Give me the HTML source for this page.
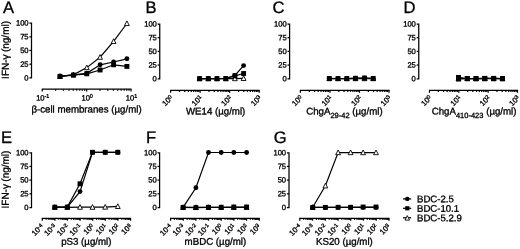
<!DOCTYPE html>
<html lang="en">
<head>
<meta charset="utf-8">
<title>Figure</title>
<style>
html,body{margin:0;padding:0;background:#fff;}
body{width:520px;height:249px;overflow:hidden;}
svg{display:block;}
.t{font-family:"Liberation Sans", Arial, sans-serif;fill:#000;stroke:#000;stroke-width:0.33;text-rendering:geometricPrecision;}
.ax{fill:none;stroke:#000;stroke-width:1.25;}
</style>
</head>
<body>
<svg width="520" height="249" viewBox="0 0 520 249">
<defs><filter id="soft" x="0" y="0" width="520" height="249" filterUnits="userSpaceOnUse"><feGaussianBlur stdDeviation="0.4"/></filter></defs>
<rect width="520" height="249" fill="#fff"/>
<g filter="url(#soft)">
<text transform="translate(3.0,13.1) rotate(0.03)" font-size="16.6" class="t">A</text>
<path d="M29.40,23.10H31.50V77.90H29.40" class="ax"/>
<path d="M29.40,64.20H31.50" class="ax"/>
<path d="M29.40,50.50H31.50" class="ax"/>
<path d="M29.40,36.80H31.50" class="ax"/>
<text transform="translate(28.60,80.40) rotate(0.03)" font-size="7.6" text-anchor="end" class="t">0</text>
<text transform="translate(28.60,66.70) rotate(0.03)" font-size="7.6" text-anchor="end" class="t">25</text>
<text transform="translate(28.60,53.00) rotate(0.03)" font-size="7.6" text-anchor="end" class="t">50</text>
<text transform="translate(28.60,39.30) rotate(0.03)" font-size="7.6" text-anchor="end" class="t">75</text>
<text transform="translate(28.60,25.60) rotate(0.03)" font-size="7.6" text-anchor="end" class="t">100</text>
<text transform="translate(8.7,78.90) rotate(-89.97)" font-size="10" class="t">IFN-γ</text>
<text transform="translate(8.7,52.10) rotate(-89.97)" font-size="10" class="t">(ng/ml)</text>
<path d="M41.75,89.20H131.55" class="ax"/>
<path d="M42.25,89.20v2.4" class="ax"/>
<path d="M55.62,89.20v1.55" class="ax"/>
<path d="M63.43,89.20v1.55" class="ax"/>
<path d="M68.98,89.20v1.55" class="ax"/>
<path d="M73.28,89.20v1.55" class="ax"/>
<path d="M76.80,89.20v1.55" class="ax"/>
<path d="M79.77,89.20v1.55" class="ax"/>
<path d="M82.35,89.20v1.55" class="ax"/>
<path d="M84.62,89.20v1.55" class="ax"/>
<text transform="translate(42.75,100.40) rotate(0.03)" font-size="7.6" text-anchor="middle" class="t">10<tspan dy="-2.6" font-size="5.4">-1</tspan></text>
<path d="M86.65,89.20v2.4" class="ax"/>
<path d="M100.02,89.20v1.55" class="ax"/>
<path d="M107.83,89.20v1.55" class="ax"/>
<path d="M113.38,89.20v1.55" class="ax"/>
<path d="M117.68,89.20v1.55" class="ax"/>
<path d="M121.20,89.20v1.55" class="ax"/>
<path d="M124.17,89.20v1.55" class="ax"/>
<path d="M126.75,89.20v1.55" class="ax"/>
<path d="M129.02,89.20v1.55" class="ax"/>
<text transform="translate(87.15,100.40) rotate(0.03)" font-size="7.6" text-anchor="middle" class="t">10<tspan dy="-2.6" font-size="5.4">0</tspan></text>
<path d="M131.05,89.20v2.4" class="ax"/>
<text transform="translate(131.55,100.40) rotate(0.03)" font-size="7.6" text-anchor="middle" class="t">10<tspan dy="-2.6" font-size="5.4">1</tspan></text>
<text transform="translate(86.50,112.45) rotate(0.03)" font-size="9.7" text-anchor="middle" class="t">β-cell membranes (µg/ml)</text>
<polyline fill="none" stroke="#000" stroke-width="1.2" points="60.00,76.40 73.40,74.80 86.80,67.60 100.10,57.20 113.60,41.40 126.90,23.50"/><polygon points="60.00,73.80 57.60,78.50 62.40,78.50" fill="#fff" stroke="#000" stroke-width="0.9"/><polygon points="73.40,72.20 71.00,76.90 75.80,76.90" fill="#fff" stroke="#000" stroke-width="0.9"/><polygon points="86.80,65.00 84.40,69.70 89.20,69.70" fill="#fff" stroke="#000" stroke-width="0.9"/><polygon points="100.10,54.60 97.70,59.30 102.50,59.30" fill="#fff" stroke="#000" stroke-width="0.9"/><polygon points="113.60,38.80 111.20,43.50 116.00,43.50" fill="#fff" stroke="#000" stroke-width="0.9"/><polygon points="126.90,20.90 124.50,25.60 129.30,25.60" fill="#fff" stroke="#000" stroke-width="0.9"/>
<polyline fill="none" stroke="#000" stroke-width="1.2" points="60.00,76.30 73.40,75.10 86.80,73.80 100.10,70.00 113.60,64.80 126.90,66.40"/><rect x="57.55" y="73.85" width="4.90" height="4.90" fill="#000"/><rect x="70.95" y="72.65" width="4.90" height="4.90" fill="#000"/><rect x="84.35" y="71.35" width="4.90" height="4.90" fill="#000"/><rect x="97.65" y="67.55" width="4.90" height="4.90" fill="#000"/><rect x="111.15" y="62.35" width="4.90" height="4.90" fill="#000"/><rect x="124.45" y="63.95" width="4.90" height="4.90" fill="#000"/>
<polyline fill="none" stroke="#000" stroke-width="1.2" points="60.00,76.10 73.40,74.90 86.80,73.30 100.10,64.80 113.60,62.00 126.90,58.80"/><circle cx="60.00" cy="76.10" r="2.45" fill="#000"/><circle cx="73.40" cy="74.90" r="2.45" fill="#000"/><circle cx="86.80" cy="73.30" r="2.45" fill="#000"/><circle cx="100.10" cy="64.80" r="2.45" fill="#000"/><circle cx="113.60" cy="62.00" r="2.45" fill="#000"/><circle cx="126.90" cy="58.80" r="2.45" fill="#000"/>
<text transform="translate(145.4,13.1) rotate(0.03)" font-size="16.6" class="t">B</text>
<path d="M157.65,24.00H159.75V78.75H157.65" class="ax"/>
<path d="M157.65,65.06H159.75" class="ax"/>
<path d="M157.65,51.38H159.75" class="ax"/>
<path d="M157.65,37.69H159.75" class="ax"/>
<text transform="translate(156.85,81.25) rotate(0.03)" font-size="7.6" text-anchor="end" class="t">0</text>
<text transform="translate(156.85,67.56) rotate(0.03)" font-size="7.6" text-anchor="end" class="t">25</text>
<text transform="translate(156.85,53.88) rotate(0.03)" font-size="7.6" text-anchor="end" class="t">50</text>
<text transform="translate(156.85,40.19) rotate(0.03)" font-size="7.6" text-anchor="end" class="t">75</text>
<text transform="translate(156.85,26.50) rotate(0.03)" font-size="7.6" text-anchor="end" class="t">100</text>
<path d="M170.10,90.35H259.69" class="ax"/>
<path d="M170.60,90.35v2.4" class="ax"/>
<path d="M179.49,90.35v1.55" class="ax"/>
<path d="M184.69,90.35v1.55" class="ax"/>
<path d="M188.38,90.35v1.55" class="ax"/>
<path d="M191.24,90.35v1.55" class="ax"/>
<path d="M193.58,90.35v1.55" class="ax"/>
<path d="M195.56,90.35v1.55" class="ax"/>
<path d="M197.27,90.35v1.55" class="ax"/>
<path d="M198.78,90.35v1.55" class="ax"/>
<text transform="translate(173.40,98.45) rotate(-45)" font-size="7.6" text-anchor="end" class="t">10<tspan dy="-1.9" font-size="5.4">0</tspan></text>
<path d="M200.13,90.35v2.4" class="ax"/>
<path d="M209.02,90.35v1.55" class="ax"/>
<path d="M214.22,90.35v1.55" class="ax"/>
<path d="M217.91,90.35v1.55" class="ax"/>
<path d="M220.77,90.35v1.55" class="ax"/>
<path d="M223.11,90.35v1.55" class="ax"/>
<path d="M225.09,90.35v1.55" class="ax"/>
<path d="M226.80,90.35v1.55" class="ax"/>
<path d="M228.31,90.35v1.55" class="ax"/>
<text transform="translate(202.93,98.45) rotate(-45)" font-size="7.6" text-anchor="end" class="t">10<tspan dy="-1.9" font-size="5.4">1</tspan></text>
<path d="M229.66,90.35v2.4" class="ax"/>
<path d="M238.55,90.35v1.55" class="ax"/>
<path d="M243.75,90.35v1.55" class="ax"/>
<path d="M247.44,90.35v1.55" class="ax"/>
<path d="M250.30,90.35v1.55" class="ax"/>
<path d="M252.64,90.35v1.55" class="ax"/>
<path d="M254.62,90.35v1.55" class="ax"/>
<path d="M256.33,90.35v1.55" class="ax"/>
<path d="M257.84,90.35v1.55" class="ax"/>
<text transform="translate(232.46,98.45) rotate(-45)" font-size="7.6" text-anchor="end" class="t">10<tspan dy="-1.9" font-size="5.4">2</tspan></text>
<path d="M259.19,90.35v2.4" class="ax"/>
<text transform="translate(261.99,98.45) rotate(-45)" font-size="7.6" text-anchor="end" class="t">10<tspan dy="-1.9" font-size="5.4">3</tspan></text>
<text transform="translate(215.60,114.50) rotate(0.03)" font-size="9.7" text-anchor="middle" class="t">WE14 (µg/ml)</text>
<polyline fill="none" stroke="#000" stroke-width="1.2" points="199.60,78.70 208.30,78.70 217.00,78.70 225.80,78.70 234.90,78.60 243.60,78.40"/><polygon points="199.60,76.10 197.20,80.80 202.00,80.80" fill="#fff" stroke="#000" stroke-width="0.9"/><polygon points="208.30,76.10 205.90,80.80 210.70,80.80" fill="#fff" stroke="#000" stroke-width="0.9"/><polygon points="217.00,76.10 214.60,80.80 219.40,80.80" fill="#fff" stroke="#000" stroke-width="0.9"/><polygon points="225.80,76.10 223.40,80.80 228.20,80.80" fill="#fff" stroke="#000" stroke-width="0.9"/><polygon points="234.90,76.00 232.50,80.70 237.30,80.70" fill="#fff" stroke="#000" stroke-width="0.9"/><polygon points="243.60,75.80 241.20,80.50 246.00,80.50" fill="#fff" stroke="#000" stroke-width="0.9"/>
<polyline fill="none" stroke="#000" stroke-width="1.2" points="199.60,78.60 208.30,78.60 217.00,78.60 225.80,78.50 234.90,75.80 243.60,73.50"/><rect x="197.15" y="76.15" width="4.90" height="4.90" fill="#000"/><rect x="205.85" y="76.15" width="4.90" height="4.90" fill="#000"/><rect x="214.55" y="76.15" width="4.90" height="4.90" fill="#000"/><rect x="223.35" y="76.05" width="4.90" height="4.90" fill="#000"/><rect x="232.45" y="73.35" width="4.90" height="4.90" fill="#000"/><rect x="241.15" y="71.05" width="4.90" height="4.90" fill="#000"/>
<polyline fill="none" stroke="#000" stroke-width="1.2" points="199.60,78.60 208.30,78.60 217.00,78.60 225.80,78.50 234.90,75.40 243.60,65.60"/><circle cx="199.60" cy="78.60" r="2.45" fill="#000"/><circle cx="208.30" cy="78.60" r="2.45" fill="#000"/><circle cx="217.00" cy="78.60" r="2.45" fill="#000"/><circle cx="225.80" cy="78.50" r="2.45" fill="#000"/><circle cx="234.90" cy="75.40" r="2.45" fill="#000"/><circle cx="243.60" cy="65.60" r="2.45" fill="#000"/>
<text transform="translate(272.5,13.1) rotate(0.03)" font-size="16.6" class="t">C</text>
<path d="M287.50,24.00H289.60V78.75H287.50" class="ax"/>
<path d="M287.50,65.06H289.60" class="ax"/>
<path d="M287.50,51.38H289.60" class="ax"/>
<path d="M287.50,37.69H289.60" class="ax"/>
<text transform="translate(286.70,81.25) rotate(0.03)" font-size="7.6" text-anchor="end" class="t">0</text>
<text transform="translate(286.70,67.56) rotate(0.03)" font-size="7.6" text-anchor="end" class="t">25</text>
<text transform="translate(286.70,53.88) rotate(0.03)" font-size="7.6" text-anchor="end" class="t">50</text>
<text transform="translate(286.70,40.19) rotate(0.03)" font-size="7.6" text-anchor="end" class="t">75</text>
<text transform="translate(286.70,26.50) rotate(0.03)" font-size="7.6" text-anchor="end" class="t">100</text>
<path d="M299.90,90.35H389.49" class="ax"/>
<path d="M300.40,90.35v2.4" class="ax"/>
<path d="M309.29,90.35v1.55" class="ax"/>
<path d="M314.49,90.35v1.55" class="ax"/>
<path d="M318.18,90.35v1.55" class="ax"/>
<path d="M321.04,90.35v1.55" class="ax"/>
<path d="M323.38,90.35v1.55" class="ax"/>
<path d="M325.36,90.35v1.55" class="ax"/>
<path d="M327.07,90.35v1.55" class="ax"/>
<path d="M328.58,90.35v1.55" class="ax"/>
<text transform="translate(303.20,98.45) rotate(-45)" font-size="7.6" text-anchor="end" class="t">10<tspan dy="-1.9" font-size="5.4">0</tspan></text>
<path d="M329.93,90.35v2.4" class="ax"/>
<path d="M338.82,90.35v1.55" class="ax"/>
<path d="M344.02,90.35v1.55" class="ax"/>
<path d="M347.71,90.35v1.55" class="ax"/>
<path d="M350.57,90.35v1.55" class="ax"/>
<path d="M352.91,90.35v1.55" class="ax"/>
<path d="M354.89,90.35v1.55" class="ax"/>
<path d="M356.60,90.35v1.55" class="ax"/>
<path d="M358.11,90.35v1.55" class="ax"/>
<text transform="translate(332.73,98.45) rotate(-45)" font-size="7.6" text-anchor="end" class="t">10<tspan dy="-1.9" font-size="5.4">1</tspan></text>
<path d="M359.46,90.35v2.4" class="ax"/>
<path d="M368.35,90.35v1.55" class="ax"/>
<path d="M373.55,90.35v1.55" class="ax"/>
<path d="M377.24,90.35v1.55" class="ax"/>
<path d="M380.10,90.35v1.55" class="ax"/>
<path d="M382.44,90.35v1.55" class="ax"/>
<path d="M384.42,90.35v1.55" class="ax"/>
<path d="M386.13,90.35v1.55" class="ax"/>
<path d="M387.64,90.35v1.55" class="ax"/>
<text transform="translate(362.26,98.45) rotate(-45)" font-size="7.6" text-anchor="end" class="t">10<tspan dy="-1.9" font-size="5.4">2</tspan></text>
<path d="M388.99,90.35v2.4" class="ax"/>
<text transform="translate(391.79,98.45) rotate(-45)" font-size="7.6" text-anchor="end" class="t">10<tspan dy="-1.9" font-size="5.4">3</tspan></text>
<text transform="translate(344.40,114.50) rotate(0.03)" font-size="9.7" text-anchor="middle" class="t">ChgA<tspan dy="3.4" font-size="7.5">29-42</tspan><tspan dy="-3.4"> (µg/ml)</tspan></text>
<polyline fill="none" stroke="#000" stroke-width="1.2" points="329.30,78.60 338.00,78.60 346.80,78.60 355.50,78.60 364.50,78.60 373.20,78.60"/><polygon points="329.30,76.00 326.90,80.70 331.70,80.70" fill="#fff" stroke="#000" stroke-width="0.9"/><polygon points="338.00,76.00 335.60,80.70 340.40,80.70" fill="#fff" stroke="#000" stroke-width="0.9"/><polygon points="346.80,76.00 344.40,80.70 349.20,80.70" fill="#fff" stroke="#000" stroke-width="0.9"/><polygon points="355.50,76.00 353.10,80.70 357.90,80.70" fill="#fff" stroke="#000" stroke-width="0.9"/><polygon points="364.50,76.00 362.10,80.70 366.90,80.70" fill="#fff" stroke="#000" stroke-width="0.9"/><polygon points="373.20,76.00 370.80,80.70 375.60,80.70" fill="#fff" stroke="#000" stroke-width="0.9"/>
<polyline fill="none" stroke="#000" stroke-width="1.2" points="329.30,78.40 338.00,78.50 346.80,78.50 355.50,78.20 364.50,78.00 373.20,78.40"/><circle cx="329.30" cy="78.40" r="2.45" fill="#000"/><circle cx="338.00" cy="78.50" r="2.45" fill="#000"/><circle cx="346.80" cy="78.50" r="2.45" fill="#000"/><circle cx="355.50" cy="78.20" r="2.45" fill="#000"/><circle cx="364.50" cy="78.00" r="2.45" fill="#000"/><circle cx="373.20" cy="78.40" r="2.45" fill="#000"/>
<polyline fill="none" stroke="#000" stroke-width="1.2" points="329.30,78.50 338.00,78.60 346.80,78.60 355.50,78.30 364.50,78.10 373.20,78.50"/><rect x="326.85" y="76.05" width="4.90" height="4.90" fill="#000"/><rect x="335.55" y="76.15" width="4.90" height="4.90" fill="#000"/><rect x="344.35" y="76.15" width="4.90" height="4.90" fill="#000"/><rect x="353.05" y="75.85" width="4.90" height="4.90" fill="#000"/><rect x="362.05" y="75.65" width="4.90" height="4.90" fill="#000"/><rect x="370.75" y="76.05" width="4.90" height="4.90" fill="#000"/>
<text transform="translate(403.5,13.1) rotate(0.03)" font-size="16.6" class="t">D</text>
<path d="M416.65,24.00H418.75V78.75H416.65" class="ax"/>
<path d="M416.65,65.06H418.75" class="ax"/>
<path d="M416.65,51.38H418.75" class="ax"/>
<path d="M416.65,37.69H418.75" class="ax"/>
<text transform="translate(415.85,81.25) rotate(0.03)" font-size="7.6" text-anchor="end" class="t">0</text>
<text transform="translate(415.85,67.56) rotate(0.03)" font-size="7.6" text-anchor="end" class="t">25</text>
<text transform="translate(415.85,53.88) rotate(0.03)" font-size="7.6" text-anchor="end" class="t">50</text>
<text transform="translate(415.85,40.19) rotate(0.03)" font-size="7.6" text-anchor="end" class="t">75</text>
<text transform="translate(415.85,26.50) rotate(0.03)" font-size="7.6" text-anchor="end" class="t">100</text>
<path d="M429.00,90.35H517.99" class="ax"/>
<path d="M429.50,90.35v2.4" class="ax"/>
<path d="M438.33,90.35v1.55" class="ax"/>
<path d="M443.49,90.35v1.55" class="ax"/>
<path d="M447.16,90.35v1.55" class="ax"/>
<path d="M450.00,90.35v1.55" class="ax"/>
<path d="M452.32,90.35v1.55" class="ax"/>
<path d="M454.29,90.35v1.55" class="ax"/>
<path d="M455.99,90.35v1.55" class="ax"/>
<path d="M457.49,90.35v1.55" class="ax"/>
<text transform="translate(432.30,98.45) rotate(-45)" font-size="7.6" text-anchor="end" class="t">10<tspan dy="-1.9" font-size="5.4">0</tspan></text>
<path d="M458.83,90.35v2.4" class="ax"/>
<path d="M467.66,90.35v1.55" class="ax"/>
<path d="M472.82,90.35v1.55" class="ax"/>
<path d="M476.49,90.35v1.55" class="ax"/>
<path d="M479.33,90.35v1.55" class="ax"/>
<path d="M481.65,90.35v1.55" class="ax"/>
<path d="M483.62,90.35v1.55" class="ax"/>
<path d="M485.32,90.35v1.55" class="ax"/>
<path d="M486.82,90.35v1.55" class="ax"/>
<text transform="translate(461.63,98.45) rotate(-45)" font-size="7.6" text-anchor="end" class="t">10<tspan dy="-1.9" font-size="5.4">1</tspan></text>
<path d="M488.16,90.35v2.4" class="ax"/>
<path d="M496.99,90.35v1.55" class="ax"/>
<path d="M502.15,90.35v1.55" class="ax"/>
<path d="M505.82,90.35v1.55" class="ax"/>
<path d="M508.66,90.35v1.55" class="ax"/>
<path d="M510.98,90.35v1.55" class="ax"/>
<path d="M512.95,90.35v1.55" class="ax"/>
<path d="M514.65,90.35v1.55" class="ax"/>
<path d="M516.15,90.35v1.55" class="ax"/>
<text transform="translate(490.96,98.45) rotate(-45)" font-size="7.6" text-anchor="end" class="t">10<tspan dy="-1.9" font-size="5.4">2</tspan></text>
<path d="M517.49,90.35v2.4" class="ax"/>
<text transform="translate(520.29,98.45) rotate(-45)" font-size="7.6" text-anchor="end" class="t">10<tspan dy="-1.9" font-size="5.4">3</tspan></text>
<text transform="translate(474.10,114.50) rotate(0.03)" font-size="9.7" text-anchor="middle" class="t">ChgA<tspan dy="3.4" font-size="7.5">410-423</tspan><tspan dy="-3.4"> (µg/ml)</tspan></text>
<polyline fill="none" stroke="#000" stroke-width="1.2" points="458.50,78.70 467.30,78.70 476.00,78.70 484.80,78.70 493.70,78.70 502.50,78.70"/><polygon points="458.50,76.10 456.10,80.80 460.90,80.80" fill="#fff" stroke="#000" stroke-width="0.9"/><polygon points="467.30,76.10 464.90,80.80 469.70,80.80" fill="#fff" stroke="#000" stroke-width="0.9"/><polygon points="476.00,76.10 473.60,80.80 478.40,80.80" fill="#fff" stroke="#000" stroke-width="0.9"/><polygon points="484.80,76.10 482.40,80.80 487.20,80.80" fill="#fff" stroke="#000" stroke-width="0.9"/><polygon points="493.70,76.10 491.30,80.80 496.10,80.80" fill="#fff" stroke="#000" stroke-width="0.9"/><polygon points="502.50,76.10 500.10,80.80 504.90,80.80" fill="#fff" stroke="#000" stroke-width="0.9"/>
<polyline fill="none" stroke="#000" stroke-width="1.2" points="458.50,78.90 467.30,78.50 476.00,78.60 484.80,78.40 493.70,78.40 502.50,78.60"/><rect x="456.05" y="76.45" width="4.90" height="4.90" fill="#000"/><rect x="464.85" y="76.05" width="4.90" height="4.90" fill="#000"/><rect x="473.55" y="76.15" width="4.90" height="4.90" fill="#000"/><rect x="482.35" y="75.95" width="4.90" height="4.90" fill="#000"/><rect x="491.25" y="75.95" width="4.90" height="4.90" fill="#000"/><rect x="500.05" y="76.15" width="4.90" height="4.90" fill="#000"/>
<polyline fill="none" stroke="#000" stroke-width="1.2" points="458.50,77.40 467.30,78.50 476.00,78.60 484.80,78.40 493.70,78.40 502.50,78.60"/><rect x="456.05" y="74.95" width="4.90" height="4.90" fill="#000"/><rect x="464.85" y="76.05" width="4.90" height="4.90" fill="#000"/><rect x="473.55" y="76.15" width="4.90" height="4.90" fill="#000"/><rect x="482.35" y="75.95" width="4.90" height="4.90" fill="#000"/><rect x="491.25" y="75.95" width="4.90" height="4.90" fill="#000"/><rect x="500.05" y="76.15" width="4.90" height="4.90" fill="#000"/>
<text transform="translate(1.0,143.0) rotate(0.03)" font-size="16.6" class="t">E</text>
<path d="M29.40,152.75H31.50V207.50H29.40" class="ax"/>
<path d="M29.40,193.81H31.50" class="ax"/>
<path d="M29.40,180.12H31.50" class="ax"/>
<path d="M29.40,166.44H31.50" class="ax"/>
<text transform="translate(28.60,210.00) rotate(0.03)" font-size="7.6" text-anchor="end" class="t">0</text>
<text transform="translate(28.60,196.31) rotate(0.03)" font-size="7.6" text-anchor="end" class="t">25</text>
<text transform="translate(28.60,182.62) rotate(0.03)" font-size="7.6" text-anchor="end" class="t">50</text>
<text transform="translate(28.60,168.94) rotate(0.03)" font-size="7.6" text-anchor="end" class="t">75</text>
<text transform="translate(28.60,155.25) rotate(0.03)" font-size="7.6" text-anchor="end" class="t">100</text>
<text transform="translate(8.7,208.50) rotate(-89.97)" font-size="10" class="t">IFN-γ</text>
<text transform="translate(8.7,181.70) rotate(-89.97)" font-size="10" class="t">(ng/ml)</text>
<path d="M41.80,218.30H131.07" class="ax"/>
<path d="M42.30,218.30v2.4" class="ax"/>
<path d="M46.10,218.30v1.55" class="ax"/>
<path d="M48.32,218.30v1.55" class="ax"/>
<path d="M49.89,218.30v1.55" class="ax"/>
<path d="M51.11,218.30v1.55" class="ax"/>
<path d="M52.11,218.30v1.55" class="ax"/>
<path d="M52.96,218.30v1.55" class="ax"/>
<path d="M53.69,218.30v1.55" class="ax"/>
<path d="M54.33,218.30v1.55" class="ax"/>
<text transform="translate(44.10,226.90) rotate(-45)" font-size="7.6" text-anchor="end" class="t">10<tspan dy="-1.9" font-size="5.4">-4</tspan></text>
<path d="M54.91,218.30v2.4" class="ax"/>
<path d="M58.71,218.30v1.55" class="ax"/>
<path d="M60.93,218.30v1.55" class="ax"/>
<path d="M62.50,218.30v1.55" class="ax"/>
<path d="M63.72,218.30v1.55" class="ax"/>
<path d="M64.72,218.30v1.55" class="ax"/>
<path d="M65.57,218.30v1.55" class="ax"/>
<path d="M66.30,218.30v1.55" class="ax"/>
<path d="M66.94,218.30v1.55" class="ax"/>
<text transform="translate(56.71,226.90) rotate(-45)" font-size="7.6" text-anchor="end" class="t">10<tspan dy="-1.9" font-size="5.4">-3</tspan></text>
<path d="M67.52,218.30v2.4" class="ax"/>
<path d="M71.32,218.30v1.55" class="ax"/>
<path d="M73.54,218.30v1.55" class="ax"/>
<path d="M75.11,218.30v1.55" class="ax"/>
<path d="M76.33,218.30v1.55" class="ax"/>
<path d="M77.33,218.30v1.55" class="ax"/>
<path d="M78.18,218.30v1.55" class="ax"/>
<path d="M78.91,218.30v1.55" class="ax"/>
<path d="M79.55,218.30v1.55" class="ax"/>
<text transform="translate(69.32,226.90) rotate(-45)" font-size="7.6" text-anchor="end" class="t">10<tspan dy="-1.9" font-size="5.4">-2</tspan></text>
<path d="M80.13,218.30v2.4" class="ax"/>
<path d="M83.93,218.30v1.55" class="ax"/>
<path d="M86.15,218.30v1.55" class="ax"/>
<path d="M87.72,218.30v1.55" class="ax"/>
<path d="M88.94,218.30v1.55" class="ax"/>
<path d="M89.94,218.30v1.55" class="ax"/>
<path d="M90.79,218.30v1.55" class="ax"/>
<path d="M91.52,218.30v1.55" class="ax"/>
<path d="M92.16,218.30v1.55" class="ax"/>
<text transform="translate(81.93,226.90) rotate(-45)" font-size="7.6" text-anchor="end" class="t">10<tspan dy="-1.9" font-size="5.4">-1</tspan></text>
<path d="M92.74,218.30v2.4" class="ax"/>
<path d="M96.54,218.30v1.55" class="ax"/>
<path d="M98.76,218.30v1.55" class="ax"/>
<path d="M100.33,218.30v1.55" class="ax"/>
<path d="M101.55,218.30v1.55" class="ax"/>
<path d="M102.55,218.30v1.55" class="ax"/>
<path d="M103.40,218.30v1.55" class="ax"/>
<path d="M104.13,218.30v1.55" class="ax"/>
<path d="M104.77,218.30v1.55" class="ax"/>
<text transform="translate(94.54,226.90) rotate(-45)" font-size="7.6" text-anchor="end" class="t">10<tspan dy="-1.9" font-size="5.4">0</tspan></text>
<path d="M105.35,218.30v2.4" class="ax"/>
<path d="M109.15,218.30v1.55" class="ax"/>
<path d="M111.37,218.30v1.55" class="ax"/>
<path d="M112.94,218.30v1.55" class="ax"/>
<path d="M114.16,218.30v1.55" class="ax"/>
<path d="M115.16,218.30v1.55" class="ax"/>
<path d="M116.01,218.30v1.55" class="ax"/>
<path d="M116.74,218.30v1.55" class="ax"/>
<path d="M117.38,218.30v1.55" class="ax"/>
<text transform="translate(107.15,226.90) rotate(-45)" font-size="7.6" text-anchor="end" class="t">10<tspan dy="-1.9" font-size="5.4">1</tspan></text>
<path d="M117.96,218.30v2.4" class="ax"/>
<path d="M121.76,218.30v1.55" class="ax"/>
<path d="M123.98,218.30v1.55" class="ax"/>
<path d="M125.55,218.30v1.55" class="ax"/>
<path d="M126.77,218.30v1.55" class="ax"/>
<path d="M127.77,218.30v1.55" class="ax"/>
<path d="M128.62,218.30v1.55" class="ax"/>
<path d="M129.35,218.30v1.55" class="ax"/>
<path d="M129.99,218.30v1.55" class="ax"/>
<text transform="translate(119.76,226.90) rotate(-45)" font-size="7.6" text-anchor="end" class="t">10<tspan dy="-1.9" font-size="5.4">2</tspan></text>
<path d="M130.57,218.30v2.4" class="ax"/>
<text transform="translate(132.37,226.90) rotate(-45)" font-size="7.6" text-anchor="end" class="t">10<tspan dy="-1.9" font-size="5.4">3</tspan></text>
<text transform="translate(86.30,244.80) rotate(0.03)" font-size="9.7" text-anchor="middle" class="t">pS3 (µg/ml)</text>
<polyline fill="none" stroke="#000" stroke-width="1.2" points="54.80,207.30 67.30,207.30 80.00,207.20 92.50,207.20 105.20,207.10 117.80,206.40"/><polygon points="54.80,204.70 52.40,209.40 57.20,209.40" fill="#fff" stroke="#000" stroke-width="0.9"/><polygon points="67.30,204.70 64.90,209.40 69.70,209.40" fill="#fff" stroke="#000" stroke-width="0.9"/><polygon points="80.00,204.60 77.60,209.30 82.40,209.30" fill="#fff" stroke="#000" stroke-width="0.9"/><polygon points="92.50,204.60 90.10,209.30 94.90,209.30" fill="#fff" stroke="#000" stroke-width="0.9"/><polygon points="105.20,204.50 102.80,209.20 107.60,209.20" fill="#fff" stroke="#000" stroke-width="0.9"/><polygon points="117.80,203.80 115.40,208.50 120.20,208.50" fill="#fff" stroke="#000" stroke-width="0.9"/>
<polyline fill="none" stroke="#000" stroke-width="1.2" points="54.80,207.20 67.30,207.10 80.00,191.60 92.50,152.40 105.20,152.30 117.80,152.30"/><circle cx="54.80" cy="207.20" r="2.45" fill="#000"/><circle cx="67.30" cy="207.10" r="2.45" fill="#000"/><circle cx="80.00" cy="191.60" r="2.45" fill="#000"/><circle cx="92.50" cy="152.40" r="2.45" fill="#000"/><circle cx="105.20" cy="152.30" r="2.45" fill="#000"/><circle cx="117.80" cy="152.30" r="2.45" fill="#000"/>
<polyline fill="none" stroke="#000" stroke-width="1.2" points="54.80,207.20 67.30,207.10 80.00,183.80 92.50,152.30 105.20,152.30 117.80,152.30"/><rect x="52.35" y="204.75" width="4.90" height="4.90" fill="#000"/><rect x="64.85" y="204.65" width="4.90" height="4.90" fill="#000"/><rect x="77.55" y="181.35" width="4.90" height="4.90" fill="#000"/><rect x="90.05" y="149.85" width="4.90" height="4.90" fill="#000"/><rect x="102.75" y="149.85" width="4.90" height="4.90" fill="#000"/><rect x="115.35" y="149.85" width="4.90" height="4.90" fill="#000"/>
<text transform="translate(146.1,143.0) rotate(0.03)" font-size="16.6" class="t">F</text>
<path d="M157.50,152.75H159.60V207.50H157.50" class="ax"/>
<path d="M157.50,193.81H159.60" class="ax"/>
<path d="M157.50,180.12H159.60" class="ax"/>
<path d="M157.50,166.44H159.60" class="ax"/>
<text transform="translate(156.70,210.00) rotate(0.03)" font-size="7.6" text-anchor="end" class="t">0</text>
<text transform="translate(156.70,196.31) rotate(0.03)" font-size="7.6" text-anchor="end" class="t">25</text>
<text transform="translate(156.70,182.62) rotate(0.03)" font-size="7.6" text-anchor="end" class="t">50</text>
<text transform="translate(156.70,168.94) rotate(0.03)" font-size="7.6" text-anchor="end" class="t">75</text>
<text transform="translate(156.70,155.25) rotate(0.03)" font-size="7.6" text-anchor="end" class="t">100</text>
<path d="M170.10,218.30H259.72" class="ax"/>
<path d="M170.60,218.30v2.4" class="ax"/>
<path d="M174.41,218.30v1.55" class="ax"/>
<path d="M176.64,218.30v1.55" class="ax"/>
<path d="M178.22,218.30v1.55" class="ax"/>
<path d="M179.45,218.30v1.55" class="ax"/>
<path d="M180.45,218.30v1.55" class="ax"/>
<path d="M181.30,218.30v1.55" class="ax"/>
<path d="M182.03,218.30v1.55" class="ax"/>
<path d="M182.68,218.30v1.55" class="ax"/>
<text transform="translate(172.40,226.90) rotate(-45)" font-size="7.6" text-anchor="end" class="t">10<tspan dy="-1.9" font-size="5.4">-4</tspan></text>
<path d="M183.26,218.30v2.4" class="ax"/>
<path d="M187.07,218.30v1.55" class="ax"/>
<path d="M189.30,218.30v1.55" class="ax"/>
<path d="M190.88,218.30v1.55" class="ax"/>
<path d="M192.11,218.30v1.55" class="ax"/>
<path d="M193.11,218.30v1.55" class="ax"/>
<path d="M193.96,218.30v1.55" class="ax"/>
<path d="M194.69,218.30v1.55" class="ax"/>
<path d="M195.34,218.30v1.55" class="ax"/>
<text transform="translate(185.06,226.90) rotate(-45)" font-size="7.6" text-anchor="end" class="t">10<tspan dy="-1.9" font-size="5.4">-3</tspan></text>
<path d="M195.92,218.30v2.4" class="ax"/>
<path d="M199.73,218.30v1.55" class="ax"/>
<path d="M201.96,218.30v1.55" class="ax"/>
<path d="M203.54,218.30v1.55" class="ax"/>
<path d="M204.77,218.30v1.55" class="ax"/>
<path d="M205.77,218.30v1.55" class="ax"/>
<path d="M206.62,218.30v1.55" class="ax"/>
<path d="M207.35,218.30v1.55" class="ax"/>
<path d="M208.00,218.30v1.55" class="ax"/>
<text transform="translate(197.72,226.90) rotate(-45)" font-size="7.6" text-anchor="end" class="t">10<tspan dy="-1.9" font-size="5.4">-2</tspan></text>
<path d="M208.58,218.30v2.4" class="ax"/>
<path d="M212.39,218.30v1.55" class="ax"/>
<path d="M214.62,218.30v1.55" class="ax"/>
<path d="M216.20,218.30v1.55" class="ax"/>
<path d="M217.43,218.30v1.55" class="ax"/>
<path d="M218.43,218.30v1.55" class="ax"/>
<path d="M219.28,218.30v1.55" class="ax"/>
<path d="M220.01,218.30v1.55" class="ax"/>
<path d="M220.66,218.30v1.55" class="ax"/>
<text transform="translate(210.38,226.90) rotate(-45)" font-size="7.6" text-anchor="end" class="t">10<tspan dy="-1.9" font-size="5.4">-1</tspan></text>
<path d="M221.24,218.30v2.4" class="ax"/>
<path d="M225.05,218.30v1.55" class="ax"/>
<path d="M227.28,218.30v1.55" class="ax"/>
<path d="M228.86,218.30v1.55" class="ax"/>
<path d="M230.09,218.30v1.55" class="ax"/>
<path d="M231.09,218.30v1.55" class="ax"/>
<path d="M231.94,218.30v1.55" class="ax"/>
<path d="M232.67,218.30v1.55" class="ax"/>
<path d="M233.32,218.30v1.55" class="ax"/>
<text transform="translate(223.04,226.90) rotate(-45)" font-size="7.6" text-anchor="end" class="t">10<tspan dy="-1.9" font-size="5.4">0</tspan></text>
<path d="M233.90,218.30v2.4" class="ax"/>
<path d="M237.71,218.30v1.55" class="ax"/>
<path d="M239.94,218.30v1.55" class="ax"/>
<path d="M241.52,218.30v1.55" class="ax"/>
<path d="M242.75,218.30v1.55" class="ax"/>
<path d="M243.75,218.30v1.55" class="ax"/>
<path d="M244.60,218.30v1.55" class="ax"/>
<path d="M245.33,218.30v1.55" class="ax"/>
<path d="M245.98,218.30v1.55" class="ax"/>
<text transform="translate(235.70,226.90) rotate(-45)" font-size="7.6" text-anchor="end" class="t">10<tspan dy="-1.9" font-size="5.4">1</tspan></text>
<path d="M246.56,218.30v2.4" class="ax"/>
<path d="M250.37,218.30v1.55" class="ax"/>
<path d="M252.60,218.30v1.55" class="ax"/>
<path d="M254.18,218.30v1.55" class="ax"/>
<path d="M255.41,218.30v1.55" class="ax"/>
<path d="M256.41,218.30v1.55" class="ax"/>
<path d="M257.26,218.30v1.55" class="ax"/>
<path d="M257.99,218.30v1.55" class="ax"/>
<path d="M258.64,218.30v1.55" class="ax"/>
<text transform="translate(248.36,226.90) rotate(-45)" font-size="7.6" text-anchor="end" class="t">10<tspan dy="-1.9" font-size="5.4">2</tspan></text>
<path d="M259.22,218.30v2.4" class="ax"/>
<text transform="translate(261.02,226.90) rotate(-45)" font-size="7.6" text-anchor="end" class="t">10<tspan dy="-1.9" font-size="5.4">3</tspan></text>
<text transform="translate(215.40,244.80) rotate(0.03)" font-size="9.7" text-anchor="middle" class="t">mBDC (µg/ml)</text>
<polyline fill="none" stroke="#000" stroke-width="1.2" points="183.10,207.40 195.90,207.40 208.50,207.40 221.20,207.40 233.80,207.40 246.60,207.40"/><polygon points="183.10,204.80 180.70,209.50 185.50,209.50" fill="#fff" stroke="#000" stroke-width="0.9"/><polygon points="195.90,204.80 193.50,209.50 198.30,209.50" fill="#fff" stroke="#000" stroke-width="0.9"/><polygon points="208.50,204.80 206.10,209.50 210.90,209.50" fill="#fff" stroke="#000" stroke-width="0.9"/><polygon points="221.20,204.80 218.80,209.50 223.60,209.50" fill="#fff" stroke="#000" stroke-width="0.9"/><polygon points="233.80,204.80 231.40,209.50 236.20,209.50" fill="#fff" stroke="#000" stroke-width="0.9"/><polygon points="246.60,204.80 244.20,209.50 249.00,209.50" fill="#fff" stroke="#000" stroke-width="0.9"/>
<polyline fill="none" stroke="#000" stroke-width="1.2" points="183.10,207.40 195.90,187.80 208.50,152.50 221.20,152.50 233.80,152.50 246.60,152.50"/><circle cx="183.10" cy="207.40" r="2.45" fill="#000"/><circle cx="195.90" cy="187.80" r="2.45" fill="#000"/><circle cx="208.50" cy="152.50" r="2.45" fill="#000"/><circle cx="221.20" cy="152.50" r="2.45" fill="#000"/><circle cx="233.80" cy="152.50" r="2.45" fill="#000"/><circle cx="246.60" cy="152.50" r="2.45" fill="#000"/>
<polyline fill="none" stroke="#000" stroke-width="1.2" points="183.10,207.40 195.90,207.60 208.50,207.30 221.20,207.30 233.80,207.00 246.60,207.00"/><rect x="180.65" y="204.95" width="4.90" height="4.90" fill="#000"/><rect x="193.45" y="205.15" width="4.90" height="4.90" fill="#000"/><rect x="206.05" y="204.85" width="4.90" height="4.90" fill="#000"/><rect x="218.75" y="204.85" width="4.90" height="4.90" fill="#000"/><rect x="231.35" y="204.55" width="4.90" height="4.90" fill="#000"/><rect x="244.15" y="204.55" width="4.90" height="4.90" fill="#000"/>
<text transform="translate(273.8,143.0) rotate(0.03)" font-size="16.6" class="t">G</text>
<path d="M286.90,152.75H289.00V207.50H286.90" class="ax"/>
<path d="M286.90,193.81H289.00" class="ax"/>
<path d="M286.90,180.12H289.00" class="ax"/>
<path d="M286.90,166.44H289.00" class="ax"/>
<text transform="translate(286.10,210.00) rotate(0.03)" font-size="7.6" text-anchor="end" class="t">0</text>
<text transform="translate(286.10,196.31) rotate(0.03)" font-size="7.6" text-anchor="end" class="t">25</text>
<text transform="translate(286.10,182.62) rotate(0.03)" font-size="7.6" text-anchor="end" class="t">50</text>
<text transform="translate(286.10,168.94) rotate(0.03)" font-size="7.6" text-anchor="end" class="t">75</text>
<text transform="translate(286.10,155.25) rotate(0.03)" font-size="7.6" text-anchor="end" class="t">100</text>
<path d="M299.30,218.30H389.48" class="ax"/>
<path d="M299.80,218.30v2.4" class="ax"/>
<path d="M303.64,218.30v1.55" class="ax"/>
<path d="M305.88,218.30v1.55" class="ax"/>
<path d="M307.47,218.30v1.55" class="ax"/>
<path d="M308.70,218.30v1.55" class="ax"/>
<path d="M309.71,218.30v1.55" class="ax"/>
<path d="M310.57,218.30v1.55" class="ax"/>
<path d="M311.31,218.30v1.55" class="ax"/>
<path d="M311.96,218.30v1.55" class="ax"/>
<text transform="translate(301.60,226.90) rotate(-45)" font-size="7.6" text-anchor="end" class="t">10<tspan dy="-1.9" font-size="5.4">-4</tspan></text>
<path d="M312.54,218.30v2.4" class="ax"/>
<path d="M316.38,218.30v1.55" class="ax"/>
<path d="M318.62,218.30v1.55" class="ax"/>
<path d="M320.21,218.30v1.55" class="ax"/>
<path d="M321.44,218.30v1.55" class="ax"/>
<path d="M322.45,218.30v1.55" class="ax"/>
<path d="M323.31,218.30v1.55" class="ax"/>
<path d="M324.05,218.30v1.55" class="ax"/>
<path d="M324.70,218.30v1.55" class="ax"/>
<text transform="translate(314.34,226.90) rotate(-45)" font-size="7.6" text-anchor="end" class="t">10<tspan dy="-1.9" font-size="5.4">-3</tspan></text>
<path d="M325.28,218.30v2.4" class="ax"/>
<path d="M329.12,218.30v1.55" class="ax"/>
<path d="M331.36,218.30v1.55" class="ax"/>
<path d="M332.95,218.30v1.55" class="ax"/>
<path d="M334.18,218.30v1.55" class="ax"/>
<path d="M335.19,218.30v1.55" class="ax"/>
<path d="M336.05,218.30v1.55" class="ax"/>
<path d="M336.79,218.30v1.55" class="ax"/>
<path d="M337.44,218.30v1.55" class="ax"/>
<text transform="translate(327.08,226.90) rotate(-45)" font-size="7.6" text-anchor="end" class="t">10<tspan dy="-1.9" font-size="5.4">-2</tspan></text>
<path d="M338.02,218.30v2.4" class="ax"/>
<path d="M341.86,218.30v1.55" class="ax"/>
<path d="M344.10,218.30v1.55" class="ax"/>
<path d="M345.69,218.30v1.55" class="ax"/>
<path d="M346.92,218.30v1.55" class="ax"/>
<path d="M347.93,218.30v1.55" class="ax"/>
<path d="M348.79,218.30v1.55" class="ax"/>
<path d="M349.53,218.30v1.55" class="ax"/>
<path d="M350.18,218.30v1.55" class="ax"/>
<text transform="translate(339.82,226.90) rotate(-45)" font-size="7.6" text-anchor="end" class="t">10<tspan dy="-1.9" font-size="5.4">-1</tspan></text>
<path d="M350.76,218.30v2.4" class="ax"/>
<path d="M354.60,218.30v1.55" class="ax"/>
<path d="M356.84,218.30v1.55" class="ax"/>
<path d="M358.43,218.30v1.55" class="ax"/>
<path d="M359.66,218.30v1.55" class="ax"/>
<path d="M360.67,218.30v1.55" class="ax"/>
<path d="M361.53,218.30v1.55" class="ax"/>
<path d="M362.27,218.30v1.55" class="ax"/>
<path d="M362.92,218.30v1.55" class="ax"/>
<text transform="translate(352.56,226.90) rotate(-45)" font-size="7.6" text-anchor="end" class="t">10<tspan dy="-1.9" font-size="5.4">0</tspan></text>
<path d="M363.50,218.30v2.4" class="ax"/>
<path d="M367.34,218.30v1.55" class="ax"/>
<path d="M369.58,218.30v1.55" class="ax"/>
<path d="M371.17,218.30v1.55" class="ax"/>
<path d="M372.40,218.30v1.55" class="ax"/>
<path d="M373.41,218.30v1.55" class="ax"/>
<path d="M374.27,218.30v1.55" class="ax"/>
<path d="M375.01,218.30v1.55" class="ax"/>
<path d="M375.66,218.30v1.55" class="ax"/>
<text transform="translate(365.30,226.90) rotate(-45)" font-size="7.6" text-anchor="end" class="t">10<tspan dy="-1.9" font-size="5.4">1</tspan></text>
<path d="M376.24,218.30v2.4" class="ax"/>
<path d="M380.08,218.30v1.55" class="ax"/>
<path d="M382.32,218.30v1.55" class="ax"/>
<path d="M383.91,218.30v1.55" class="ax"/>
<path d="M385.14,218.30v1.55" class="ax"/>
<path d="M386.15,218.30v1.55" class="ax"/>
<path d="M387.01,218.30v1.55" class="ax"/>
<path d="M387.75,218.30v1.55" class="ax"/>
<path d="M388.40,218.30v1.55" class="ax"/>
<text transform="translate(378.04,226.90) rotate(-45)" font-size="7.6" text-anchor="end" class="t">10<tspan dy="-1.9" font-size="5.4">2</tspan></text>
<path d="M388.98,218.30v2.4" class="ax"/>
<text transform="translate(390.78,226.90) rotate(-45)" font-size="7.6" text-anchor="end" class="t">10<tspan dy="-1.9" font-size="5.4">3</tspan></text>
<text transform="translate(344.40,244.80) rotate(0.03)" font-size="9.7" text-anchor="middle" class="t">KS20 (µg/ml)</text>
<polyline fill="none" stroke="#000" stroke-width="1.2" points="312.70,207.40 325.40,207.40 338.10,207.40 350.60,207.40 363.10,207.40 376.00,207.40"/><circle cx="312.70" cy="207.40" r="2.45" fill="#000"/><circle cx="325.40" cy="207.40" r="2.45" fill="#000"/><circle cx="338.10" cy="207.40" r="2.45" fill="#000"/><circle cx="350.60" cy="207.40" r="2.45" fill="#000"/><circle cx="363.10" cy="207.40" r="2.45" fill="#000"/><circle cx="376.00" cy="207.40" r="2.45" fill="#000"/>
<polyline fill="none" stroke="#000" stroke-width="1.2" points="312.70,207.30 325.40,185.80 338.10,152.60 350.60,152.60 363.10,152.60 376.00,152.60"/><polygon points="312.70,204.70 310.30,209.40 315.10,209.40" fill="#fff" stroke="#000" stroke-width="0.9"/><polygon points="325.40,183.20 323.00,187.90 327.80,187.90" fill="#fff" stroke="#000" stroke-width="0.9"/><polygon points="338.10,150.00 335.70,154.70 340.50,154.70" fill="#fff" stroke="#000" stroke-width="0.9"/><polygon points="350.60,150.00 348.20,154.70 353.00,154.70" fill="#fff" stroke="#000" stroke-width="0.9"/><polygon points="363.10,150.00 360.70,154.70 365.50,154.70" fill="#fff" stroke="#000" stroke-width="0.9"/><polygon points="376.00,150.00 373.60,154.70 378.40,154.70" fill="#fff" stroke="#000" stroke-width="0.9"/>
<polyline fill="none" stroke="#000" stroke-width="1.2" points="312.70,207.40 325.40,207.40 338.10,207.30 350.60,207.30 363.10,207.00 376.00,207.00"/><rect x="310.25" y="204.95" width="4.90" height="4.90" fill="#000"/><rect x="322.95" y="204.95" width="4.90" height="4.90" fill="#000"/><rect x="335.65" y="204.85" width="4.90" height="4.90" fill="#000"/><rect x="348.15" y="204.85" width="4.90" height="4.90" fill="#000"/><rect x="360.65" y="204.55" width="4.90" height="4.90" fill="#000"/><rect x="373.55" y="204.55" width="4.90" height="4.90" fill="#000"/>
<path d="M403,198.9H411.2" class="ax"/>
<circle cx="407.30" cy="198.90" r="2.21" fill="#000"/>
<text transform="translate(417.0,202.25) rotate(0.03)" font-size="9.6" class="t">BDC-2.5</text>
<path d="M403,208.3H411.2" class="ax"/>
<rect x="405.19" y="206.19" width="4.21" height="4.21" fill="#000"/>
<text transform="translate(417.0,211.65) rotate(0.03)" font-size="9.6" class="t">BDC-10.1</text>
<path d="M403,217.8H411.2" class="ax"/>
<polygon points="407.30,215.63 405.02,220.10 409.58,220.10" fill="#fff" stroke="#000" stroke-width="0.9"/>
<text transform="translate(417.0,221.15) rotate(0.03)" font-size="9.6" class="t">BDC-5.2.9</text>
</g>
</svg>
</body>
</html>
